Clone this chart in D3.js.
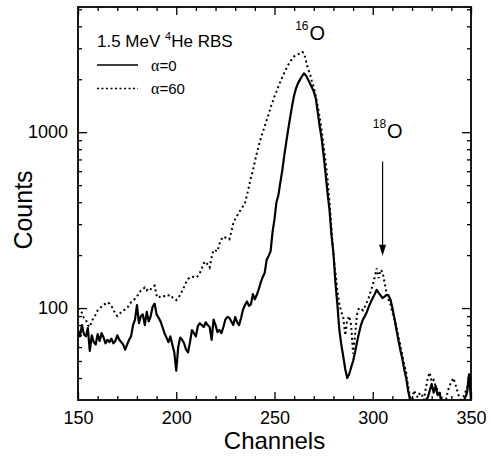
<!DOCTYPE html>
<html>
  <head>
    <meta charset="utf-8">
    <title>RBS spectra</title>
    <script src="https://cdn.jsdelivr.net/npm/d3@7"></script>
    <style type="text/css">
    body { margin: 0; background: #fff; }
    text { font-family: "Liberation Sans", Arial, sans-serif; fill: #000; }
    .axis path { display: none; }
    .axis line { stroke: #000; stroke-width: 1.3px; }
    .axis text { font-size: 18px; }
    </style>
  </head>
  <body>
  <script type="text/javascript">

    // alpha = 0 (solid)
    var solidCh = [150,151,152,153,154,155,156,157,158,159,160,161,162,163,164,165,166,167,168,169,
      170,171,172,173,174,175,176,177,178,179,180,181,182,183,184,185,186,187,188,189,
      190,191,192,193,194,195,196,197,198,199,200,201,202,203,204,205,206,207,208,209,
      210,211,212,213,214,215,216,217,218,219,220,221,222,223,224,225,226,227,228,229,
      230,231,232,233,234,235,236,237,238,239,240,241,242,243,244,245,246,247,248,249,
      250,251,252,253,254,255,256,257,258,259,260,261,262,263,264,265,266,267,268,269,
      270,271,272,273,274,275,276,277,278,279,280,281,282,283,284,285,286,287,288,289,
      290,291,292,293,294,295,296,297,298,299,300,301,302,303,304,305,306,307,308,309,
      310,311,312,313,314,315,316,317,318,319,320,322,325,328,329,330,331,332,333,334,
      335,337,340,343,346,348,349,350];
    var solidCounts = [75,69,80,71,69,77,57,70,64,62,71,65,72,68,63,66,64,67,63,65,
      70,66,64,62,58,62,66,69,80,86,104,82,90,92,80,95,84,90,102,106,
      92,88,84,78,72,68,64,69,62,56,44,60,68,66,63,58,56,64,75,72,
      69,79,82,80,78,83,80,78,66,86,80,73,75,72,78,86,89,88,84,80,
      89,83,80,88,98,104,109,103,105,120,112,119,128,140,150,158,188,198,210,270,
      320,400,440,520,610,740,880,1040,1220,1420,1620,1780,1900,1990,2080,2160,2100,2000,1900,1800,
      1700,1560,1300,1080,920,740,580,450,360,260,205,140,105,75,62,53,45,40,42,46,
      50,56,64,72,80,86,90,95,102,108,114,120,127,122,118,114,116,119,118,112,
      100,88,76,66,58,52,45,40,34,30,28,29,28,31,34,37,33,36,32,33,
      29,28,29,28,29,33,42,30];

    // alpha = 60 (dotted)
    var dotCh = d3.range(150, 351);
    var dotCounts = [100,96,94,88,86,80,78,84,88,92,97,99,102,104,106,108,106,103,98,93,
      90,92,95,97,98,100,104,108,110,113,117,120,126,128,131,126,130,128,132,134,
      118,114,117,116,117,119,118,119,115,113,111,114,119,125,132,140,146,150,151,150,
      149,152,158,168,180,184,176,170,195,214,212,210,232,246,255,252,250,246,270,302,
      320,335,350,365,380,396,440,490,550,605,680,760,840,920,1000,1080,1170,1260,1380,1480,
      1600,1700,1820,1940,2060,2180,2300,2420,2520,2620,2700,2750,2780,2800,2860,2820,2550,2300,2150,1960,
      1800,1600,1400,1220,1020,840,680,540,400,280,200,160,125,105,95,88,70,85,90,80,
      55,70,92,100,99,97,102,108,115,125,135,150,168,148,165,160,140,122,112,105,
      94,86,78,70,62,54,48,43,36,31,30,34,32,31,33,32,30,35,40,43,
      38,39,36,34,33,31,30,29,33,36,38,40,37,34,31,30,31,33,35,41,38];

    var xMajor = [150, 200, 250, 300, 350];
    var xMinor = d3.range(160, 350, 10).filter(function(d){ return d % 50 != 0; });
    var yMajor = [100, 1000];
    var yMinor = [40,50,60,70,80,90,200,300,400,500,600,700,800,900,2000,3000,4000,5000];
    var legendLabels = ["\u03b1=0", "\u03b1=60"];

    var width = 493, height = 457;
    var margin = {left: 78, top: 7, right: 22, bottom: 57};

    var x = d3.scaleLinear().domain([150, 350]).range([margin.left, width - margin.right]);
    var y = d3.scaleLog().domain([30, 5150]).range([height - margin.bottom, margin.top]);

    var svg = d3.select("body").append("svg")
      .attr("width", width)
      .attr("height", height);

    var yBot = y.range()[0], yTop = y.range()[1];
    var xLeft = x.range()[0], xRight = x.range()[1];

    svg.append("clipPath").attr("id", "plot")
      .append("rect")
      .attr("x", xLeft).attr("y", yTop)
      .attr("width", xRight - xLeft).attr("height", yBot - yTop);

    var line = d3.line()
      .x(function(d){ return x(d[0]); })
      .y(function(d){ return y(d[1]); });

    var solid = solidCh.map(function(c, i){ return [c, solidCounts[i]]; });
    var dotted = dotCh.map(function(c, i){ return [c, dotCounts[i]]; });

    var g = svg.append("g").attr("clip-path", "url(#plot)");

    g.append("path")
      .datum(dotted)
      .attr("d", line)
      .attr("fill", "none")
      .attr("stroke", "#000")
      .attr("stroke-width", 2)
      .attr("stroke-dasharray", "2,3");

    g.append("path")
      .datum(solid)
      .attr("d", line)
      .attr("fill", "none")
      .attr("stroke", "#000")
      .attr("stroke-width", 2.2)
      .attr("stroke-linejoin", "round");

    // axes, ticks pointing inward
    svg.append("g").attr("class", "axis")
      .attr("transform", "translate(0," + yBot + ")")
      .call(d3.axisBottom(x).tickValues(xMajor).tickSize(-8).tickPadding(11).tickSizeOuter(0));
    svg.append("g").attr("class", "axis")
      .attr("transform", "translate(0," + yBot + ")")
      .call(d3.axisBottom(x).tickValues(xMinor).tickSize(-4).tickFormat("").tickSizeOuter(0));
    svg.append("g").attr("class", "axis")
      .attr("transform", "translate(0," + yTop + ")")
      .call(d3.axisTop(x).tickValues(xMajor).tickSize(-8).tickFormat("").tickSizeOuter(0));
    svg.append("g").attr("class", "axis")
      .attr("transform", "translate(0," + yTop + ")")
      .call(d3.axisTop(x).tickValues(xMinor).tickSize(-4).tickFormat("").tickSizeOuter(0));

    svg.append("g").attr("class", "axis")
      .attr("transform", "translate(" + xLeft + ",0)")
      .call(d3.axisLeft(y).tickValues(yMajor).tickSize(-9).tickPadding(10).tickFormat(d3.format("d")).tickSizeOuter(0));
    svg.append("g").attr("class", "axis")
      .attr("transform", "translate(" + xLeft + ",0)")
      .call(d3.axisLeft(y).tickValues(yMinor).tickSize(-4).tickFormat("").tickSizeOuter(0));
    svg.append("g").attr("class", "axis")
      .attr("transform", "translate(" + xRight + ",0)")
      .call(d3.axisRight(y).tickValues(yMajor).tickSize(-9).tickFormat("").tickSizeOuter(0));
    svg.append("g").attr("class", "axis")
      .attr("transform", "translate(" + xRight + ",0)")
      .call(d3.axisRight(y).tickValues(yMinor).tickSize(-4).tickFormat("").tickSizeOuter(0));

    // frame
    svg.append("rect")
      .attr("x", xLeft).attr("y", yTop)
      .attr("width", xRight - xLeft).attr("height", yBot - yTop)
      .attr("fill", "none")
      .attr("stroke", "#000")
      .attr("stroke-width", 1.8);

    // axis titles
    svg.append("text")
      .attr("x", (xLeft + xRight) / 2)
      .attr("y", 449)
      .attr("text-anchor", "middle")
      .style("font-size", "24px")
      .text("Channels");

    svg.append("text")
      .attr("transform", "translate(32,210) rotate(-90)")
      .attr("text-anchor", "middle")
      .style("font-size", "25px")
      .text("Counts");

    // legend
    var title = svg.append("text")
      .attr("x", 97).attr("y", 47)
      .style("font-size", "17px");
    title.append("tspan").text("1.5 MeV ");
    title.append("tspan").attr("dy", -7).style("font-size", "11px").text("4");
    title.append("tspan").attr("dy", 7).text("He RBS");

    var leg = svg.selectAll(".legend")
      .data(legendLabels)
      .enter().append("g")
      .attr("class", "legend")
      .attr("transform", function(d, i){ return "translate(0," + (65 + i * 23.5) + ")"; });

    leg.append("line")
      .attr("x1", 97).attr("x2", 138)
      .attr("stroke", "#000")
      .attr("stroke-width", 1.5)
      .attr("stroke-dasharray", function(d, i){ return i == 0 ? null : "2,2.5"; });

    leg.append("text")
      .attr("x", 151).attr("y", 5.5)
      .style("font-size", "15px")
      .each(function(d){
        var t = d3.select(this);
        t.append("tspan").style("font-family", "'Liberation Serif', serif").style("font-size", "16px").text(d.charAt(0));
        t.append("tspan").text(d.slice(1));
      });

    // peak labels
    var peaks = [{mass: "16", ch: 260.5, counts: 3350}, {mass: "18", ch: 300, counts: 925}];
    peaks.forEach(function(p){
      var t = svg.append("text")
        .attr("x", x(p.ch)).attr("y", y(p.counts));
      t.append("tspan").attr("dy", -10).style("font-size", "12px").text(p.mass);
      t.append("tspan").attr("dy", 10).attr("dx", 1).style("font-size", "20px").text("O");
    });

    // arrow onto the 18O peak
    var arrowCh = 305, arrowFrom = 680, arrowTo = 198;
    svg.append("line")
      .attr("x1", x(arrowCh)).attr("x2", x(arrowCh))
      .attr("y1", y(arrowFrom)).attr("y2", y(arrowTo) - 8)
      .attr("stroke", "#000")
      .attr("stroke-width", 1.2);
    svg.append("path")
      .attr("d", "M" + (x(arrowCh) - 3.5) + "," + (y(arrowTo) - 11) +
                 "L" + (x(arrowCh) + 3.5) + "," + (y(arrowTo) - 11) +
                 "L" + x(arrowCh) + "," + y(arrowTo) + "Z")
      .attr("fill", "#000");

    </script>
  </body>
</html>
